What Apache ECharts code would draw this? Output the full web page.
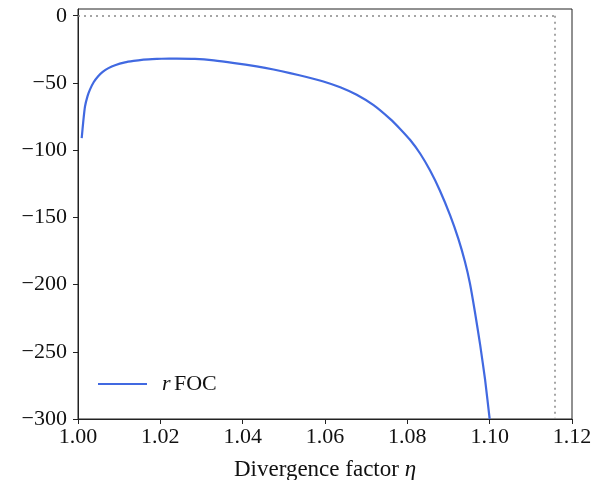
<!DOCTYPE html>
<html>
<head>
<meta charset="utf-8">
<script src="https://cdn.jsdelivr.net/npm/echarts@6/dist/echarts.min.js"></script>
<style>html,body{margin:0;padding:0;background:#fff}#c{width:592px;height:480px}</style>
</head>
<body>
<div id="c"></div>
<script>
// Divergence factor eta (x) and r FOC values (y)
const etaValues = [1.0009, 1.0013, 1.0017, 1.0023, 1.0029, 1.0038, 1.0049, 1.006, 1.0074, 1.009,
  1.0114, 1.0135, 1.0155, 1.018, 1.0203, 1.024, 1.0284, 1.033, 1.038, 1.0434,
  1.0475, 1.0515, 1.0555, 1.0596, 1.0637, 1.0677, 1.0718, 1.0758, 1.0782, 1.0807,
  1.0831, 1.0855, 1.0879, 1.0904, 1.0924, 1.094, 1.0952, 1.0964, 1.0977, 1.0989, 1.1];
const rFocValues = [-91, -78, -67.5, -60, -55, -49.5, -45, -41.8, -39, -36.8,
  -34.7, -33.6, -32.8, -32.3, -32, -31.9, -32.1, -33.2, -35.2, -37.7,
  -40, -42.7, -45.6, -48.9, -53.2, -58.8, -66.5, -76.7, -84, -92.5,
  -102.5, -115, -130, -148.5, -166, -183, -199, -220, -245, -271, -300];
const xTicks = [1.00, 1.02, 1.04, 1.06, 1.08, 1.10, 1.12];
const yTicks = [-300, -250, -200, -150, -100, -50, 0];
const refY = 0;
const refX = 1.1159;
const xMin = 1.0, xMax = 1.12, yMin = -300, yMax = 5;

const FONT = 'Liberation Serif';
const fs = 22;
const chart = echarts.init(document.getElementById('c'), null, {renderer: 'canvas'});
const lineData = etaValues.map((x, i) => [x, rFocValues[i]]);
const fmtY = v => (v < 0 ? '\u2212' + Math.abs(v) : String(v));

chart.setOption({
  animation: false,
  backgroundColor: '#ffffff',
  grid: {left: 78, right: 20, top: 9, bottom: 61, show: true, borderColor: '#222', borderWidth: 1, backgroundColor: 'transparent', outerBoundsMode: 'none', containLabel: false},
  xAxis: {
    type: 'value', min: xMin, max: xMax, interval: 0.02,
    name: '{a|Divergence factor }{i|η}', nameLocation: 'middle', nameGap: 39,
    nameTextStyle: {rich: {a: {fontFamily: FONT, fontSize: 23, color: '#111'}, i: {fontFamily: FONT, fontSize: 23, fontStyle: 'italic', color: '#111'}}},
    axisLine: {show: true, onZero: false, lineStyle: {color: '#222', width: 1}},
    axisTick: {show: true, inside: false, length: 5, lineStyle: {color: '#222'}, customValues: xTicks},
    axisLabel: {fontFamily: FONT, fontSize: fs, color: '#111', margin: 7, customValues: xTicks, formatter: v => v.toFixed(2)},
    splitLine: {show: false}
  },
  yAxis: {
    type: 'value', min: yMin, max: yMax, interval: 50,
    axisLine: {show: true, onZero: false, lineStyle: {color: '#222', width: 1}},
    axisTick: {show: true, inside: false, length: 5, lineStyle: {color: '#222'}, customValues: yTicks},
    axisLabel: {fontFamily: FONT, fontSize: fs, color: '#111', margin: 11, customValues: yTicks, formatter: fmtY},
    splitLine: {show: false}
  },
  legend: {
    show: true, left: 93, top: 368, itemWidth: 49, itemHeight: 14,
    data: [{name: 'rFOC', icon: 'path://M0,6L49,6L49,8L0,8Z'}],
    formatter: () => '{i|r} {a|FOC}',
    textStyle: {padding: [0, 0, 0, 10], rich: {a: {fontFamily: FONT, fontSize: fs, color: '#111'}, i: {fontFamily: FONT, fontSize: fs, fontStyle: 'italic', color: '#111'}}},
    itemStyle: {color: '#4169e1'}
  },
  series: [{
    name: 'rFOC', type: 'line', data: lineData, showSymbol: false, symbol: 'none', smooth: 0.15,
    lineStyle: {color: '#4169e1', width: 2.2}, itemStyle: {color: '#4169e1'}, clip: true,
    markLine: {
      silent: true, symbol: ['none', 'none'], label: {show: false},
      lineStyle: {color: '#888', type: [2, 4], width: 1.5},
      data: [
        [{coord: [xMin, refY]}, {coord: [refX, refY]}],
        [{coord: [refX, refY]}, {coord: [refX, yMin]}]
      ]
    }
  }]
});
</script>
</body>
</html>
